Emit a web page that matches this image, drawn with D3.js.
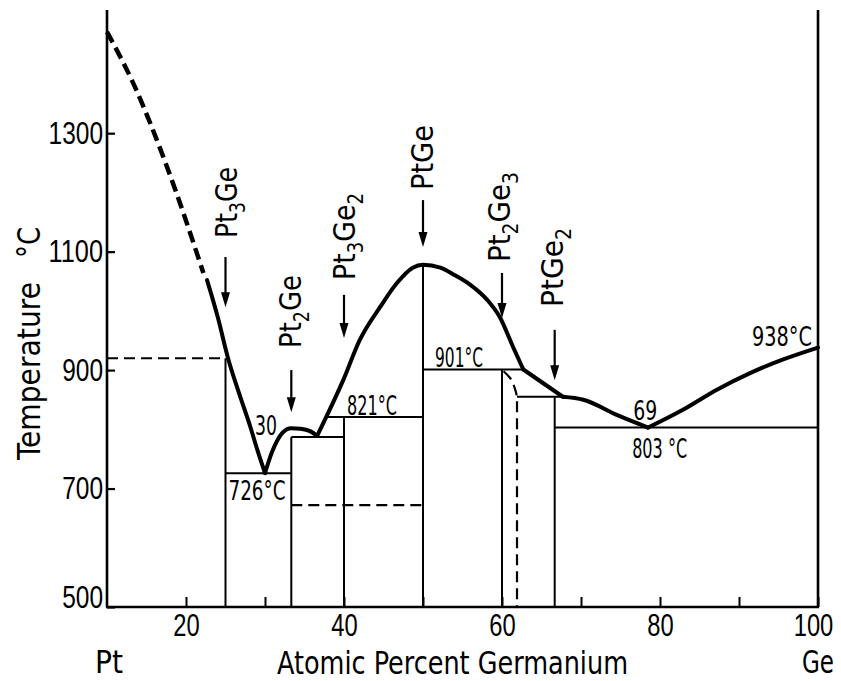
<!DOCTYPE html>
<html>
<head>
<meta charset="utf-8">
<script src="https://cdn.jsdelivr.net/npm/d3@7"></script>
<style>
  html, body { margin: 0; padding: 0; background: #fff; }
  svg { display: block; font-family: "DejaVu Sans Condensed", "DejaVu Sans", sans-serif; fill: #000; }
</style>
</head>
<body>
<svg id="chart" width="841" height="681"></svg>
<script>
// ---- Pt–Ge phase diagram: data ----
const compositionTicks = [20, 30, 40, 50, 60, 70, 80, 90, 100];
const compositionLabels = [20, 40, 60, 80, 100];
const temperatureTicks = [500, 700, 900, 1100, 1300];

// liquidus branches [at.% Ge, °C]
const liquidusPtDashed = [[10, 1471], [13.3, 1385], [17.6, 1243], [22.2, 1064]];
const liquidusPt3Ge = [[22.66, 1052], [24.05, 988], [25.32, 920], [26.84, 856], [28.1, 806], [28.99, 767], [30, 726]];
const liquidusPt2Ge = [[30, 726], [30.9, 762], [32.2, 794], [33.3, 802], [34.5, 801], [35.7, 797], [36.6, 789]];
const liquidusPtGe = [[36.6, 789], [39.9, 883], [42.0, 951], [44.6, 1007], [46.7, 1047], [48.7, 1073], [50, 1078],
                      [52.2, 1073], [53.8, 1062], [56.0, 1044], [58.1, 1019], [59.7, 990], [61.4, 939], [62.7, 901]];
const liquidusPt2Ge3 = [[62.7, 901], [67.7, 855]];
const liquidusPtGe2 = [[67.7, 855], [70.3, 850], [74.6, 824], [78.5, 803]];
const liquidusGe = [[78.5, 803], [82.9, 833], [87.2, 867], [91.4, 895], [95.6, 918], [100, 938]];

// compounds, invariant lines
const compoundNames = [["Pt", "3", "Ge", ""], ["Pt", "2", "Ge", ""], ["Pt", "3", "Ge", "2"],
                       ["Pt", "", "Ge", ""], ["Pt", "2", "Ge", "3"], ["Pt", "", "Ge", "2"]];
const compoundComposition = [25, 33.33, 40, 50, 60, 66.67];
const compoundTop = [920, 787, 821, 1078, 901, 855];
const invariantLines = [[726, 25, 33.33], [787, 33.33, 40], [821, 37.7, 50], [901, 50, 62.7], [855, 61.9, 67.7], [803, 66.67, 100]];
const dashedLines = [[920, 10, 25.3], [672, 33.33, 50]];
const dashedBoundary = [[60.2, 898], [61.0, 887], [61.6, 870], [61.9, 850], [61.9, 500]];

// temperature labels: [text, composition, °C]
const tempLabels = [["726°C", 25, 726], ["821°C", 40, 821], ["901°C", 50, 901], ["803 °C", 78.5, 803], ["938°C", 100, 938]];
const compLabels = [["30", 30, 726], ["69", 78.5, 803]];

// ---- layout ----
const svg = d3.select("#chart");
const x = d3.scaleLinear().domain([10, 100]).range([107, 818]);
const y = d3.scaleLinear().domain([500, 1508]).range([607, 10]);
const line = d3.line().x(d => x(d[0])).y(d => y(d[1])).curve(d3.curveMonotoneX);

// frame
const frame = svg.append("g").attr("stroke", "#000").attr("stroke-width", 2.6).attr("fill", "none");
frame.append("line").attr("x1", x(10)).attr("x2", x(10)).attr("y1", y(1508)).attr("y2", y(500));
frame.append("line").attr("x1", x(100)).attr("x2", x(100)).attr("y1", y(1508)).attr("y2", y(500));
frame.append("line").attr("x1", x(10) - 1).attr("x2", x(100) + 1).attr("y1", y(500)).attr("y2", y(500));

// left axis
const yAxis = svg.append("g").attr("transform", `translate(${x(10)},0)`)
  .call(d3.axisLeft(y).tickValues(temperatureTicks).tickFormat(d3.format("d"))
    .tickSizeInner(-8).tickSizeOuter(0).tickPadding(4));
yAxis.select(".domain").remove();
yAxis.selectAll(".tick line").attr("stroke", "#000").attr("stroke-width", 2.2);
yAxis.selectAll(".tick text")
  .attr("font-size", 32).attr("font-family", null).attr("fill", "#000")
  .attr("text-anchor", "start")
  .each(function (d) {
    const len = String(d).length * 13.6;
    d3.select(this).attr("textLength", len).attr("lengthAdjust", "spacingAndGlyphs").attr("x", -4 - len);
  })
  .attr("dy", d => d === 500 ? "0.03em" : "0.32em");

// bottom axis
const xAxis = svg.append("g").attr("transform", `translate(0,${y(500)})`)
  .call(d3.axisBottom(x).tickValues(compositionTicks).tickSizeInner(-10).tickSizeOuter(0).tickPadding(6)
    .tickFormat(d => compositionLabels.includes(d) ? d3.format("d")(d) : ""));
xAxis.select(".domain").remove();
xAxis.selectAll(".tick line").attr("stroke", "#000").attr("stroke-width", 2);
xAxis.selectAll(".tick text")
  .attr("font-size", 32).attr("font-family", null).attr("fill", "#000")
  .each(function (d) {
    if (compositionLabels.includes(d)) {
      const sel = d3.select(this).attr("textLength", String(d).length * 13.2).attr("lengthAdjust", "spacingAndGlyphs");
      if (d === 100) sel.attr("x", -5);
    }
  });

// compound lines and invariant lines
const phase = svg.append("g").attr("stroke", "#000").attr("stroke-width", 2).attr("fill", "none");
compoundComposition.forEach((c, i) => {
  phase.append("line").attr("x1", x(c)).attr("x2", x(c)).attr("y1", y(500)).attr("y2", y(compoundTop[i]));
});
invariantLines.forEach(([t, a, b]) => {
  phase.append("line").attr("x1", x(a)).attr("x2", x(b)).attr("y1", y(t)).attr("y2", y(t));
});

// dashed lines
const dashed = svg.append("g").attr("stroke", "#000").attr("stroke-width", 2.2).attr("fill", "none")
  .attr("stroke-dasharray", "11,6");
dashedLines.forEach(([t, a, b]) => {
  dashed.append("line").attr("x1", x(a)).attr("x2", x(b)).attr("y1", y(t)).attr("y2", y(t));
});
dashed.append("path").attr("d", d3.line().x(d => x(d[0])).y(d => y(d[1])).curve(d3.curveMonotoneY)(dashedBoundary));

// liquidus
const liq = svg.append("g").attr("stroke", "#000").attr("fill", "none").attr("stroke-linejoin", "round");
liq.append("path").attr("d", line(liquidusPtDashed)).attr("stroke-width", 4.5).attr("stroke-dasharray", "12,6");
[liquidusPt3Ge, liquidusPt2Ge, liquidusPtGe, liquidusPt2Ge3, liquidusPtGe2, liquidusGe].forEach(p => {
  liq.append("path").attr("d", line(p)).attr("stroke-width", 4).attr("stroke-linecap", "round");
});

// compound labels with arrows
const arrowTip = [1006, 829, 954, 1108, 988, 883];
const arrowTail = [1091, 900, 1027, 1187, 1064, 968];
const labelStart = [238, 348, 280, 190, 262, 307];
const labelLength = [71, 73, 87, 65, 90, 79];
const labelOffset = [11, 10, 11, 10, 8, 8];
const ann = svg.append("g");
compoundComposition.forEach((c, i) => {
  const cx = x(c), yTip = y(arrowTip[i]), yTail = y(arrowTail[i]);
  ann.append("line").attr("x1", cx).attr("x2", cx).attr("y1", yTail).attr("y2", yTip - 10)
    .attr("stroke", "#000").attr("stroke-width", 2.2);
  ann.append("path").attr("d", `M${cx - 4.5},${yTip - 15}L${cx + 4.5},${yTip - 15}L${cx},${yTip}Z`).attr("fill", "#000");
  const t = ann.append("text")
    .attr("transform", `translate(${cx + labelOffset[i]},${labelStart[i]}) rotate(-90)`)
    .attr("font-size", 31)
    .attr("textLength", labelLength[i]).attr("lengthAdjust", "spacingAndGlyphs");
  const [a, s1, b, s2] = compoundNames[i];
  t.append("tspan").text(a);
  if (s1) { t.append("tspan").attr("font-size", 21).attr("dy", 8).text(s1); t.append("tspan").attr("dy", -8).text(b); }
  else t.append("tspan").text(b);
  if (s2) t.append("tspan").attr("font-size", 21).attr("dy", 8).text(s2);
});

// temperature labels
const tl = svg.append("g").attr("font-size", 26);
const tlPlace = {
  "726°C": (c, t) => [x(c) + 3, y(t) + 27, 57],
  "821°C": (c, t) => [x(c) + 3, y(t) - 2, 50],
  "901°C": (c, t) => [x(c) + 12, y(t) - 3, 48],
  "803 °C": (c, t) => [x(c) - 16, y(t) + 30, 55],
  "938°C": (c, t) => [x(c) - 66, y(t) - 2, 60]
};
tempLabels.forEach(([s, c, t]) => {
  const [px, py, len] = tlPlace[s](c, t);
  tl.append("text").attr("x", px).attr("y", py).attr("textLength", len).attr("lengthAdjust", "spacingAndGlyphs").text(s);
});
const clPlace = { "30": [-10, -38, 22], "69": [-15, -8, 24] };
compLabels.forEach(([s, c, t]) => {
  const [dx, dy, len] = clPlace[s];
  tl.append("text").attr("x", x(c) + dx).attr("y", y(t) + dy).attr("textLength", len).attr("lengthAdjust", "spacingAndGlyphs").text(s);
});

// axis titles
const titles = svg.append("g").attr("font-size", 32);
titles.append("text").attr("x", 95).attr("y", 673).attr("textLength", 28).attr("lengthAdjust", "spacingAndGlyphs").text("Pt");
titles.append("text").attr("x", 277).attr("y", 674).attr("textLength", 351).attr("lengthAdjust", "spacingAndGlyphs").text("Atomic Percent Germanium");
titles.append("text").attr("x", 802).attr("y", 673).attr("textLength", 32).attr("lengthAdjust", "spacingAndGlyphs").text("Ge");
titles.append("text").attr("transform", "translate(40,460) rotate(-90)").attr("textLength", 178).attr("lengthAdjust", "spacingAndGlyphs").text("Temperature");
titles.append("text").attr("transform", "translate(40,258) rotate(-90)").attr("textLength", 31).attr("lengthAdjust", "spacingAndGlyphs").text("°C");
</script>
</body>
</html>
